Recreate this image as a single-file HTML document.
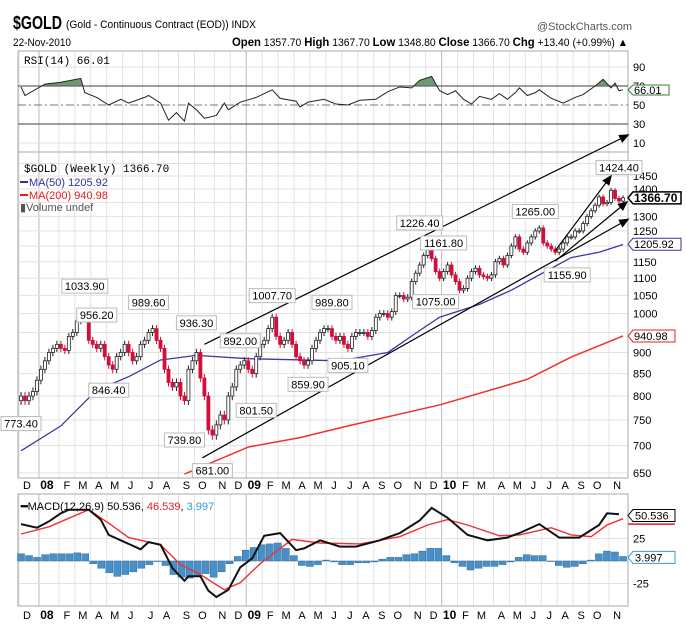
<!DOCTYPE html>
<html><head><meta charset="utf-8"><style>
html,body{margin:0;padding:0;background:#fff;}
svg{display:block;font-family:"Liberation Sans",sans-serif;}
</style></head><body>
<svg id="c" width="687" height="636" viewBox="0 0 687 636">
<g>
<text x="13" y="29" font-size="18" font-weight="bold" textLength="49" lengthAdjust="spacingAndGlyphs">$GOLD</text>
<text x="66" y="28" font-size="11" textLength="190" lengthAdjust="spacingAndGlyphs">(Gold - Continuous Contract (EOD)) INDX</text>
<text x="13" y="46" font-size="11" textLength="58" lengthAdjust="spacingAndGlyphs">22-Nov-2010</text>
<text x="232" y="46" font-size="11" textLength="396" lengthAdjust="spacingAndGlyphs"><tspan font-weight="bold" font-size="12">Open</tspan> 1357.70 <tspan font-weight="bold" font-size="12">High</tspan> 1367.70 <tspan font-weight="bold" font-size="12">Low</tspan> 1348.80 <tspan font-weight="bold" font-size="12">Close</tspan> 1366.70 <tspan font-weight="bold" font-size="12">Chg</tspan> +13.40 (+0.99%) ▲</text>
<text x="632" y="30" font-size="11" fill="#555" text-anchor="end" textLength="95" lengthAdjust="spacingAndGlyphs">@StockCharts.com</text>
</g>
<g id="rsi"></g>
<g id="main"></g>
<g id="macd"></g>
</svg>
<script>
// ---- data ----
const closes = [800,790,800,810,835, 860,880,900,910,920, 910,905,940,950, 980,990,1000,930, 920,910,920,890, 870,860,890,900, 920,900,880,890,920, 930,950,960,930, 910,860,830,820,830, 800,790,860,880, 900,840,800,730,720, 740,760,750,800, 820,860,870,880,
 860,850,890,920, 930,960,990,940, 920,930,950,920, 890,880,870,880, 910,930,950,960, 960,940,930,940, 920,910,940,950, 950,950,940,955, 990,1000,1000,990, 1005,1050,1050,1040,1045, 1090,1115,1140,1170, 1210,1160,1120,1100,
 1120,1140,1110,1090, 1065,1070,1100,1120, 1130,1110,1105,1100,1110, 1150,1160,1140,1170, 1200,1230,1190,1180, 1210,1230,1250,1260, 1210,1200,1190,1180, 1190,1210,1230,1230, 1250,1250,1275,1300, 1320,1340,1370,1345,1350, 1395,1365,1355,1367];
const ma50Weeks = [0,10,19,27,35,44,57,80,92,100,105,115,123,130,138,145,151];
const ma50Values = [690,738,813,843,882,893,885,880,900,955,990,1025,1065,1110,1163,1180,1205];
const ma200Weeks = [41,57,70,81,105,127,138,151];
const ma200Values = [648,697,715,736,781,837,889,941];
const priceTicks = [650,700,750,800,850,900,950,1000,1050,1100,1150,1200,1250,1300,1350,1400,1450,1500];
const priceLabelTicks = [650,700,750,800,850,900,1000,1050,1100,1150,1250,1300,1400,1450];
const annWeeks = [0,16,19,32,44,22,41,48,55,59,63,78,72,82,100,106,104,129,137,150];
const annValues = [773.4,1033.9,956.2,989.6,936.3,846.4,739.8,681.0,892.0,801.5,1007.7,989.8,859.9,905.1,1226.4,1161.8,1075.0,1265.0,1155.9,1424.4];
const annUp = [0,1,1,1,1,0,0,0,1,0,1,1,0,0,1,1,0,1,0,1];
const rsiWeeks = [0,1,6,10,15,16,19,22,25,27,31,32,35,37,39,41,42,44,46,49,51,52,55,59,63,65,69,70,72,76,79,82,85,89,92,95,98,100,103,105,107,109,111,113,115,118,120,122,124,125,127,129,130,133,136,139,141,144,146,148,149,150,151];
const rsiValues = [69,60,72,74,78,63,58,50,56,52,58,60,52,34,42,33,52,45,36,39,52,45,53,58,66,57,54,48,53,56,51,50,55,56,64,69,68,76,80,65,61,65,56,51,59,56,62,56,63,68,60,63,66,57,52,58,61,70,77,68,73,65,66];
const macdWeeks = [0,4,7,10,12,17,20,22,27,30,32,35,38,41,42,45,47,49,52,55,58,61,65,69,71,75,80,84,90,95,100,103,107,112,117,122,125,130,135,140,145,147,150];
const macdValues = [41,37,44,53,57,57,46,29,19,13,21,18,-8,-22,-17,-17,-33,-40,-32,-7,3,28,31,12,14,23,16,16,23,31,45,59,48,29,23,26,31,41,26,26,40,53,52];
const signalWeeks = [0,7,17,22,27,32,35,40,45,51,55,60,68,75,85,95,102,107,112,120,125,133,138,143,147,151];
const signalValues = [30,38,57,42,26,21,18,-4,-15,-32,-24,-3,24,20,19,27,40,46,40,28,29,37,29,27,40,47];
const histValues = [8,6,4,7,8,8,8,9,8,-3,-8,-13,-17,-15,-12,-8,-4,0,-5,-15,-18,-19,-17,-14,-18,-12,-3,5,12,15,18,19,20,14,6,-5,-6,-4,1,-1,-4,-4,-2,-2,-1,2,4,4,7,8,11,14,14,6,-2,-6,-10,-8,-6,-6,-4,-1,4,7,6,6,0,-5,-7,-6,-3,1,8,11,10,5];
const monthLabels = ["D","08","F","M","A","M","J","J","A","S","O","N","D","09","F","M","A","M","J","J","A","S","O","N","D","10","F","M","A","M","J","J","A","S","O","N"];
const monthStartWeeks = [0,5,10,14,18,22,26,31,35,40,44,49,53,57,61,65,69,73,77,81,85,89,93,98,102,106,110,114,119,123,127,131,135,139,143,148];
const rsiTicks = [90,70,50,30,10];
const macdTicks = [25,0,-25];

// ---- axes ----
const NS="http://www.w3.org/2000/svg";
const PL=18, PR=628, X0=21, X1=623;
const N=closes.length;
const xOf = w => X0 + w*(X1-X0)/(N-1);
const yP = p => 176 + (Math.log10(1450) - Math.log10(p))*852;
const yR = r => 105 - (r-50)*0.95;
const yM = m => 561 - m*0.9;
function el(tag, attrs, parent){const e=document.createElementNS(NS,tag);for(const k in attrs)e.setAttribute(k,attrs[k]);parent.appendChild(e);return e;}
function txt(parent,x,y,s,attrs){const t=el('text',Object.assign({x:x,y:y,'font-size':11},attrs||{}),parent);t.textContent=s;return t;}
const main=document.getElementById('main'), rsi=document.getElementById('rsi'), macd=document.getElementById('macd');
const narrow="Liberation Sans, sans-serif";

function vgrid(parent,top,bot){
  monthStartWeeks.forEach((w,i)=>{
    const x=xOf(w)-2;
    const yr=monthLabels[i].length==2;
    const l=el('line',{x1:x,x2:x,y1:top,y2:bot,stroke:yr?'#bbb':'#e2e2e2','stroke-width':1},parent);
    
    
  });
}
function monthAxis(y){
  const g=el('g',{},document.getElementById('c'));
  
  
  monthLabels.forEach((m,i)=>{
    const t=txt(g,xOf(monthStartWeeks[i])+6,y,m,{'text-anchor':'middle','font-size':m.length==2?12:11,'font-weight':m.length==2?'bold':'normal','font-family':narrow});
    
    
  });
}

// ---- RSI panel ----
vgrid(rsi,51,152);
[90,10].forEach(v=>{const l=el('line',{x1:PL,x2:PR,y1:yR(v),y2:yR(v),stroke:'#e2e2e2'},rsi);});
el('rect',{x:PL,y:51,width:PR-PL,height:101,fill:'none',stroke:'#aaa'},rsi);
const defs=el('defs',{},rsi);
const cp=el('clipPath',{id:'above70'},defs);
el('rect',{x:PL,y:51,width:PR-PL,height:yR(70)-51},cp);
let rpts=rsiWeeks.map((w,i)=>xOf(w)+','+yR(rsiValues[i])).join(' ');
const fill=el('polygon',{points:xOf(rsiWeeks[0])+','+yR(70)+' '+rpts+' '+xOf(rsiWeeks[rsiWeeks.length-1])+','+yR(70),fill:'#6f9a6f',stroke:'none','clip-path':'url(#above70)'},rsi);


[70,30].forEach(v=>{const l=el('line',{x1:PL,x2:PR,y1:yR(v),y2:yR(v),stroke:'#666','stroke-width':1.3},rsi);});
const l50=el('line',{x1:PL,x2:PR,y1:yR(50),y2:yR(50),stroke:'#777','stroke-dasharray':'8,3,2,3'},rsi);


const rl=el('polyline',{points:rpts,fill:'none',stroke:'#222','stroke-width':1},rsi);


rsiTicks.forEach(v=>{const t=txt(rsi,633,yR(v)+4,String(v),{'font-family':narrow,'font-size':11});});
const rt=txt(rsi,24,64,'RSI(14) 66.01',{'font-family':'Liberation Mono, monospace','font-size':11});


const rb=el('path',{d:'M628,90 l5,-5 h36 v10 h-36 z',fill:'#fff',stroke:'#3a7a3a'},rsi);


const rv=txt(rsi,634,94,'66.01',{'font-family':narrow,'font-size':11});



// ---- Price panel ----
vgrid(main,152,478);
priceTicks.forEach(p=>{const l=el('line',{x1:PL,x2:PR,y1:yP(p),y2:yP(p),stroke:'#e2e2e2'},main);});
el('rect',{x:PL,y:152,width:PR-PL,height:326,fill:'none',stroke:'#aaa'},main);
priceLabelTicks.forEach(p=>{const t=txt(main,633,yP(p)+4,String(p),{'font-family':narrow,'font-size':11});});
const pc=el('clipPath',{id:'pclip'},defs);
el('rect',{x:PL,y:152,width:PR-PL,height:326},pc);
const ma50=el('polyline',{points:ma50Weeks.map((w,i)=>xOf(w)+','+yP(ma50Values[i])).join(' '),fill:'none',stroke:'#3a3aa0','stroke-width':1.3,'clip-path':'url(#pclip)'},main);


const ma200=el('polyline',{points:ma200Weeks.map((w,i)=>xOf(w)+','+yP(ma200Values[i])).join(' '),fill:'none',stroke:'#f03030','stroke-width':1.5,'clip-path':'url(#pclip)'},main);


// candles
closes.forEach((c,i)=>{
  const o=i?closes[i-1]:c-10;
  const hi=Math.max(o,c)+9, lo=Math.min(o,c)-9;
  const x=xOf(i), down=c<o;
  const g=el('g',{},main);
  
  
  el('line',{x1:x,x2:x,y1:yP(hi),y2:yP(lo),stroke:down?'#d0103a':'#222','stroke-width':1},g);
  const top=yP(Math.max(o,c)), bot=yP(Math.min(o,c));
  el('rect',{x:x-1.5,y:top,width:3,height:Math.max(1,bot-top),fill:down?'#d0103a':'#fff',stroke:down?'#d0103a':'#222','stroke-width':0.8},g);
});
// trend lines
const arrows=el('g',{stroke:'#000','stroke-width':1.2,fill:'none'},main);


function tl(w1,p1,w2,p2,arrow,name){
  const x1=xOf(w1),y1=yP(p1),x2=xOf(w2),y2=yP(p2);
  const l=el('line',{x1:x1,y1:y1,x2:x2,y2:y2},arrows);
  
  
  if(arrow){const a=Math.atan2(y2-y1,x2-x1),s=9;
    el('polygon',{points:x2+','+y2+' '+(x2-s*Math.cos(a-0.4))+','+(y2-s*Math.sin(a-0.4))+' '+(x2-s*Math.cos(a+0.4))+','+(y2-s*Math.sin(a+0.4)),fill:'#000'},arrows);}
}
tl(46,920,152.3,1620,true,'upper-channel-line');
tl(45.5,677,152.3,1290,true,'lower-channel-line');
tl(134,1185,148,1450,true,'steep-trend-arrow');
tl(134,1152,152,1352,true,'mid-trend-arrow');
// annotations
annWeeks.forEach((w,i)=>{
  const s=annValues[i].toFixed(2), x=xOf(w), up=annUp[i];
  const by=up?yP(annValues[i])-22:yP(annValues[i])+8;
  const bw=s.length*6+4, bx=Math.max(1,x-bw/2);
  const g=el('g',{},main);
  
  
  el('rect',{x:bx,y:by,width:bw,height:14,fill:'#fff',stroke:'#bbb'},g);
  txt(g,bx+bw/2,by+11,s,{'text-anchor':'middle','font-family':narrow,'font-size':11});
});
// right value tags
[[1366.7,'1366.70','#000',true,'close-value-tag'],[1205.92,'1205.92','#33339a',false,'ma50-value-tag'],[940.98,'940.98','#e02020',false,'ma200-value-tag']].forEach(t=>{
  const y=yP(t[0]);
  const g=el('g',{},main);
  
  
  const w=t[1].length*6+6;
  el('path',{d:'M628,'+y+' l5,-6 h'+w+' v12 h-'+w+' z',fill:'#fff',stroke:t[2],'stroke-width':t[3]?1.5:1},g);
  txt(g,634,y+4,t[1],{'font-family':narrow,'font-size':t[3]?12:11,'font-weight':t[3]?'bold':'normal'});
});
// legend
const lg=el('g',{'font-family':'Liberation Mono, monospace','font-size':11},main);


txt(lg,24,172,'$GOLD (Weekly) 1366.70',{'font-family':'Liberation Mono, monospace'});
el('line',{x1:20,x2:28,y1:182,y2:182,stroke:'#33339a','stroke-width':2},lg);
txt(lg,29,186,'MA(50) 1205.92',{'font-family':'Liberation Sans, sans-serif',fill:'#33339a'});
el('line',{x1:20,x2:28,y1:195,y2:195,stroke:'#e02020','stroke-width':2},lg);
txt(lg,29,199,'MA(200) 940.98',{'font-family':'Liberation Sans, sans-serif',fill:'#e02020'});
txt(lg,20,211,'▮Volume undef',{'font-family':'Liberation Sans, sans-serif',fill:'#555'});
monthAxis(489);

// ---- MACD panel ----
vgrid(macd,494,606);
[25,0,-25].forEach(v=>{const l=el('line',{x1:PL,x2:PR,y1:yM(v),y2:yM(v),stroke:'#e2e2e2'},macd);});
el('rect',{x:PL,y:494,width:PR-PL,height:112,fill:'none',stroke:'#aaa'},macd);
const hstep=(X1-X0)/(histValues.length-1);
histValues.forEach((h,i)=>{
  const x=X0+i*hstep, y=yM(Math.max(h,0)), hh=Math.abs(yM(h)-yM(0));
  const b=el('rect',{x:x-3.5,y:y,width:7,height:Math.max(0.5,hh),fill:'#4a90c8',stroke:'#2a6a9a','stroke-width':0.5},macd);
  
  
});
const sg=el('polyline',{points:signalWeeks.map((w,i)=>xOf(w)+','+yM(signalValues[i])).join(' '),fill:'none',stroke:'#f03030','stroke-width':1.4},macd);


const ml=el('polyline',{points:macdWeeks.map((w,i)=>xOf(w)+','+yM(macdValues[i])).join(' '),fill:'none',stroke:'#111','stroke-width':2},macd);


macdTicks.forEach(v=>{if(v===0)return;const t=txt(macd,633,yM(v)+4,String(v),{'font-family':narrow});});
const mt=el('text',{x:21,y:510,'font-size':11,'font-family':'Liberation Sans, sans-serif'},macd);
mt.innerHTML='<tspan font-weight="bold">━</tspan>MACD(12,26,9) 50.536, <tspan fill="#e02020">46.539</tspan>, <tspan fill="#3a9ad0">3.997</tspan>';


[[50.536,'50.536','#000','macd-value-tag'],[3.997,'3.997','#3a9ad0','histogram-value-tag']].forEach(t=>{
  const y=yM(t[0]);const g=el('g',{},macd);
  
  
  el('path',{d:'M628,'+y+' l5,-6 h42 v12 h-42 z',fill:'#fff',stroke:t[2]},g);
  txt(g,635,y+4,t[1],{'font-family':narrow});
});
el('path',{d:'M628,'+(yM(46.5)+5)+' h47',stroke:'#e02020','stroke-width':1.5},macd);
monthAxis(619);
</script>
</body></html>
